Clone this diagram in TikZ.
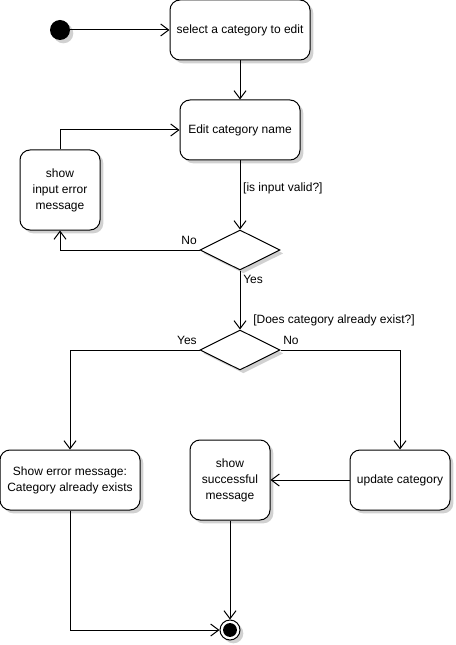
\documentclass[tikz,border=0pt]{standalone}
\usepackage{fontspec}
\setmainfont{Liberation Sans}
\usetikzlibrary{arrows.meta,shapes.geometric,shadows}
\begin{document}
\begin{tikzpicture}[x=0.75pt,y=-0.75pt,
  font=\fontsize{9}{12}\selectfont,
  shade/.style={drop shadow={shadow xshift=2.5pt,shadow yshift=-2.5pt,fill=black,opacity=0.18}},
  act/.style={draw,line width=0.75pt,rounded corners=7.5pt,fill=white,shade,align=center,inner sep=0pt},
  dec/.style={draw,line width=0.75pt,diamond,aspect=2,fill=white,shade,minimum width=60pt,minimum height=30pt,inner sep=0pt},
  flow/.style={draw,line width=0.75pt,-{Straight Barb[length=6pt,width=9pt]}},
  lbl/.style={inner sep=0pt}
]
\useasboundingbox (0,0) rectangle (455,645);
\node[circle,fill=black,minimum size=15pt,inner sep=0pt,shade] (start) at (60,30) {};
\node[act,minimum width=105pt,minimum height=45pt] (sel) at (240,30) {select a category to edit};
\node[act,minimum width=90pt,minimum height=45pt] (edit) at (240,130) {Edit category name};
\node[act,minimum width=60pt,minimum height=60pt] (inerr) at (60,190) {show\\input error\\message};
\node[dec] (d1) at (240,250) {};
\node[dec] (d2) at (240,350) {};
\node[act,minimum width=105pt,minimum height=45pt] (exists) at (70,480) {Show error message:\\Category already exists};
\node[act,minimum width=60pt,minimum height=60pt] (succ) at (230,480) {show\\successful\\message};
\node[act,minimum width=75pt,minimum height=45pt] (upd) at (400,480) {update category};
\node[circle,draw,line width=0.75pt,fill=white,minimum size=15pt,inner sep=0pt,shade] (end) at (230,630) {};
\fill (end.center) circle (5.2pt);

\draw[flow] (start) -- (sel);
\draw[flow] (sel) -- (edit);
\draw[flow] (inerr.north) |- (edit.west);
\draw[flow] (edit) -- node[lbl,right,pos=0.4,xshift=2pt]{[is input valid?]} (d1.north);
\draw[flow] (d1.west) -| (inerr.south);
\node[lbl,anchor=south east] (no1) at (197,245) {No};
\draw[flow] (d1.south) -- (d2.north);
\node[lbl,anchor=north west] (yes1) at (243,275) {Yes};
\node[lbl,anchor=south west] (q2) at (253,326) {[Does category already exist?]};
\draw[flow] (d2.west) -| (exists.north);
\node[lbl,anchor=south east] (yes2) at (197,345) {Yes};
\draw[flow] (d2.east) -| (upd.north);
\node[lbl,anchor=south west] (no2) at (283,345) {No};
\draw[flow] (upd.west) -- (succ.east);
\draw[flow] (succ.south) -- (end.north);
\draw[flow] (exists.south) |- (end.west);
\end{tikzpicture}
\end{document}
